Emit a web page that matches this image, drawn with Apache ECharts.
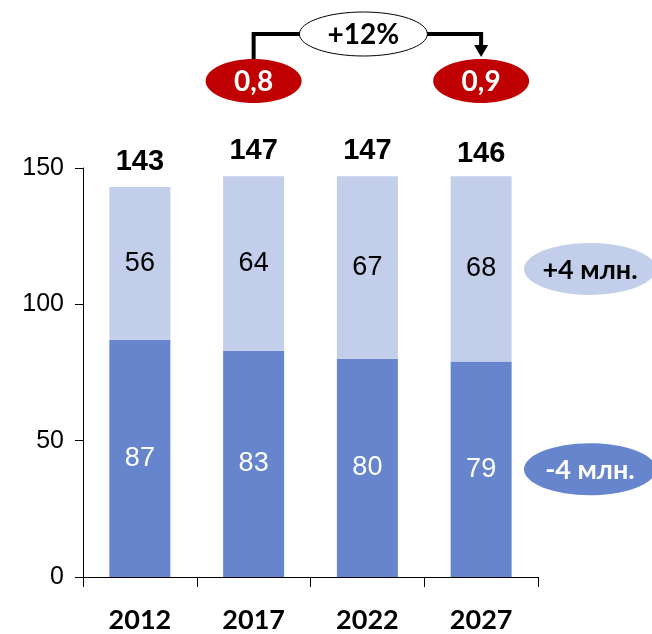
<!DOCTYPE html>
<html>
<head>
<meta charset="utf-8">
<script src="https://cdn.jsdelivr.net/npm/echarts@6/dist/echarts.min.js"></script>
<style>
  html, body { margin: 0; padding: 0; background: #ffffff; }
  #chart { width: 652px; height: 634px; }
</style>
</head>
<body>
<div id="chart"></div>
<script>
// Population split by year (millions)
const years = ['2012', '2017', '2022', '2027'];
const lowerPart = [87, 83, 80, 79];
const upperPart = [56, 64, 67, 68];
const totals = [143, 147, 147, 146];
const yTicks = [0, 50, 100, 150];

// Ratio callouts above the bars and change badges at the right
const ratioStart = '0,8';
const ratioEnd = '0,9';
const ratioChange = '+12%';
const upperChange = '+4 млн.';
const lowerChange = '-4 млн.';

const DARK = '#6785CD';
const LIGHT = '#C2CEEA';
const RED = '#C00000';
const ARIAL = '"Liberation Sans", Arial, sans-serif';
const CAL = 'Lato, "Noto Sans", sans-serif';

const chart = echarts.init(document.getElementById('chart'), null, { renderer: 'canvas' });

chart.setOption({
  animation: false,
  backgroundColor: '#ffffff',
  grid: { left: 83, right: 114, top: 168, bottom: 57 },
  xAxis: {
    type: 'category',
    data: years,
    boundaryGap: true,
    axisLine: { show: true, lineStyle: { color: '#000', width: 1 } },
    axisTick: { show: true, length: 10, lineStyle: { color: '#000' } },
    axisLabel: { color: '#000', fontFamily: CAL, fontWeight: 'bold', fontSize: 27, margin: 30 }
  },
  yAxis: {
    type: 'value',
    min: yTicks[0],
    max: yTicks[yTicks.length - 1],
    interval: yTicks[1] - yTicks[0],
    splitLine: { show: false },
    axisLine: { show: true, lineStyle: { color: '#000', width: 1 } },
    axisTick: { show: true, length: 8, lineStyle: { color: '#000' } },
    axisLabel: { color: '#000', fontFamily: ARIAL, fontSize: 25, margin: 19 }
  },
  series: [
    {
      name: 'lower',
      type: 'bar',
      stack: 'pop',
      barWidth: 61,
      data: lowerPart,
      itemStyle: { color: DARK },
      label: { show: true, position: 'inside', color: '#fff', fontFamily: ARIAL, fontSize: 27 }
    },
    {
      name: 'upper',
      type: 'bar',
      stack: 'pop',
      barWidth: 61,
      data: upperPart,
      itemStyle: { color: LIGHT },
      label: { show: true, position: 'inside', color: '#000', fontFamily: ARIAL, fontSize: 27 }
    },
    {
      // Totals above each stack; only the label is visible
      name: 'total',
      type: 'scatter',
      data: totals,
      symbolSize: 1,
      itemStyle: { color: 'transparent', opacity: 1 },
      silent: true,
      label: {
        show: true, position: 'top', distance: 10,
        color: '#000', fontFamily: ARIAL, fontWeight: 'bold', fontSize: 29
      }
    }
  ]
});

// Annotation shapes, positioned from the axes
const px = (cat) => chart.convertToPixel({ xAxisIndex: 0 }, cat);
const py = (v) => chart.convertToPixel({ yAxisIndex: 0 }, v);

const xStart = px(years[1]);
const xEnd = px(years[3]);
const xMid = (xStart + xEnd) / 2 - 4;
const lineY = 34;
const ovalY = 81;
const badgeX = 590;
const lastIdx = years.length - 1;
const upperMidY = py(lowerPart[lastIdx] + upperPart[lastIdx] / 2);
const lowerMidY = py(lowerPart[lastIdx] / 2);

chart.setOption({
  graphic: [
    { type: 'polyline', shape: { points: [[xStart, ovalY - 20], [xStart, lineY], [xMid - 60, lineY]] },
      style: { stroke: '#000', lineWidth: 4, fill: null } },
    { type: 'polyline', shape: { points: [[xMid + 60, lineY], [xEnd, lineY], [xEnd, 46]] },
      style: { stroke: '#000', lineWidth: 4, fill: null } },
    { type: 'polygon', shape: { points: [[xEnd - 7, 45], [xEnd + 7, 45], [xEnd, 57]] },
      style: { fill: '#000' } },
    { type: 'ellipse', shape: { cx: xMid, cy: lineY, rx: 64, ry: 22 },
      style: { fill: '#fff', stroke: '#000', lineWidth: 1 } },
    { type: 'text', x: xMid, y: lineY + 1,
      style: { text: ratioChange, fill: '#000', font: 'bold 28px ' + CAL, align: 'center', verticalAlign: 'middle' } },
    { type: 'ellipse', shape: { cx: xStart, cy: ovalY, rx: 48, ry: 22 }, style: { fill: RED } },
    { type: 'text', x: xStart, y: ovalY + 1,
      style: { text: ratioStart, fill: '#fff', font: 'bold 28px ' + CAL, align: 'center', verticalAlign: 'middle' } },
    { type: 'ellipse', shape: { cx: xEnd, cy: ovalY, rx: 48, ry: 22 }, style: { fill: RED } },
    { type: 'text', x: xEnd, y: ovalY + 1,
      style: { text: ratioEnd, fill: '#fff', font: 'bold 28px ' + CAL, align: 'center', verticalAlign: 'middle' } },
    { type: 'ellipse', shape: { cx: badgeX, cy: upperMidY, rx: 66, ry: 26 }, style: { fill: LIGHT } },
    { type: 'text', x: badgeX, y: upperMidY + 1,
      style: { text: upperChange, fill: '#000', font: 'bold 27px ' + CAL, align: 'center', verticalAlign: 'middle' } },
    { type: 'ellipse', shape: { cx: badgeX, cy: lowerMidY, rx: 66, ry: 26 }, style: { fill: DARK } },
    { type: 'text', x: badgeX, y: lowerMidY + 1,
      style: { text: lowerChange, fill: '#fff', font: 'bold 27px ' + CAL, align: 'center', verticalAlign: 'middle' } }
  ]
});
</script>
</body>
</html>
